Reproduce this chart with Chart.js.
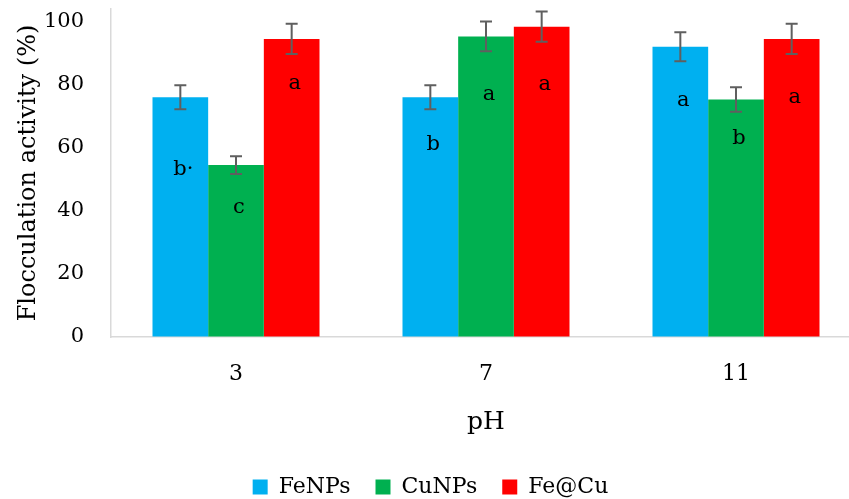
<!DOCTYPE html>
<html>
<head>
<meta charset="utf-8">
<script src="https://cdn.jsdelivr.net/npm/chart.js@4.4.0/dist/chart.umd.min.js"></script>
<style>
html, body { margin: 0; padding: 0; background: #fff; overflow: hidden; }
</style>
</head>
<body>
<canvas id="flocChart" width="870" height="499"></canvas>
<script>
var phLabels = ["3", "7", "11"];
var seriesNames = ["FeNPs", "CuNPs", "Fe@Cu"];

var feValues = [76, 76, 92];
var cuValues = [54.5, 95.3, 75.3];
var fecuValues = [94.5, 98.4, 94.5];

// +/- error (%)
var feErr = [3.8, 3.8, 4.6];
var cuErr = [2.8, 4.7, 3.9];
var fecuErr = [4.8, 4.8, 4.8];

// significance letters and the height (%) they are written at
var feLetters = ["b\u00b7", "b", "a"];
var cuLetters = ["c", "a", "b"];
var fecuLetters = ["a", "a", "a"];
var feLetterAt = [53, 61, 75];
var cuLetterAt = [41, 77, 63];
var fecuLetterAt = [80.5, 80, 76];

var yTicks = [0, 20, 40, 60, 80, 100];

var serif = '"DejaVu Serif", serif';

var barExtras = {
  id: 'barExtras',
  afterDatasetsDraw: function(chart) {
    var ctx = chart.ctx;
    var y = chart.scales.y;
    chart.data.datasets.forEach(function(ds, i) {
      var meta = chart.getDatasetMeta(i);
      meta.data.forEach(function(bar, j) {
        var v = ds.data[j], e = ds.errors[j];
        var top = y.getPixelForValue(v + e);
        var bot = y.getPixelForValue(v - e);
        ctx.save();
        ctx.strokeStyle = '#5f5f5f';
        ctx.lineWidth = 2;
        ctx.beginPath();
        ctx.moveTo(bar.x, top); ctx.lineTo(bar.x, bot);
        ctx.moveTo(bar.x - 6, top); ctx.lineTo(bar.x + 6, top);
        ctx.moveTo(bar.x - 6, bot); ctx.lineTo(bar.x + 6, bot);
        ctx.stroke();
        ctx.fillStyle = '#000';
        ctx.font = '21px ' + serif;
        ctx.textAlign = 'center';
        ctx.textBaseline = 'middle';
        ctx.fillText(ds.letters[j], bar.x + 3, y.getPixelForValue(ds.letterAt[j]));
        ctx.restore();
      });
    });
  }
};

var flocChart = new Chart(document.getElementById("flocChart"), {
  type: 'bar',
  data: {
    labels: phLabels,
    datasets: [
      { label: seriesNames[0], data: feValues, errors: feErr, letters: feLetters, letterAt: feLetterAt,
        backgroundColor: '#00B0F0', categoryPercentage: 0.668, barPercentage: 1.0 },
      { label: seriesNames[1], data: cuValues, errors: cuErr, letters: cuLetters, letterAt: cuLetterAt,
        backgroundColor: '#00B050', categoryPercentage: 0.668, barPercentage: 1.0 },
      { label: seriesNames[2], data: fecuValues, errors: fecuErr, letters: fecuLetters, letterAt: fecuLetterAt,
        backgroundColor: '#FF0000', categoryPercentage: 0.668, barPercentage: 1.0 }
    ]
  },
  options: {
    responsive: false,
    animation: false,
    layout: { padding: { top: 9, right: 9, bottom: -9, left: 0 } },
    plugins: {
      tooltip: { enabled: false },
      legend: {
        position: 'bottom',
        labels: {
          boxWidth: 15, boxHeight: 15, padding: 25,
          color: '#000',
          font: { family: serif, size: 22 }
        }
      }
    },
    scales: {
      x: {
        grid: { drawOnChartArea: false, drawTicks: false },
        border: { color: '#D9D9D9', width: 1.5 },
        ticks: { color: '#000', padding: 24, font: { family: serif, size: 22 } },
        title: { display: true, text: 'pH', color: '#000', padding: { top: 0, bottom: 14 },
                 font: { family: serif, size: 25 } },
        afterFit: function(scale) { scale.height = 114; }
      },
      y: {
        min: 0, max: 104,
        grid: { drawOnChartArea: false, drawTicks: false },
        border: { color: '#D9D9D9', width: 1.5 },
        ticks: { color: '#000', padding: 27, font: { family: serif, size: 21 } },
        afterBuildTicks: function(scale) {
          scale.ticks = yTicks.map(function(v) { return { value: v }; });
        },
        title: { display: true, text: 'Flocculation activity (%)', color: '#000',
                 padding: { top: 14, bottom: 0 }, font: { family: serif, size: 24 } },
        afterFit: function(scale) {
          scale.width = 111;
          scale.paddingTop = 0;
          scale.paddingBottom = 0;
        }
      }
    }
  },
  plugins: [barExtras]
});
</script>
</body>
</html>
